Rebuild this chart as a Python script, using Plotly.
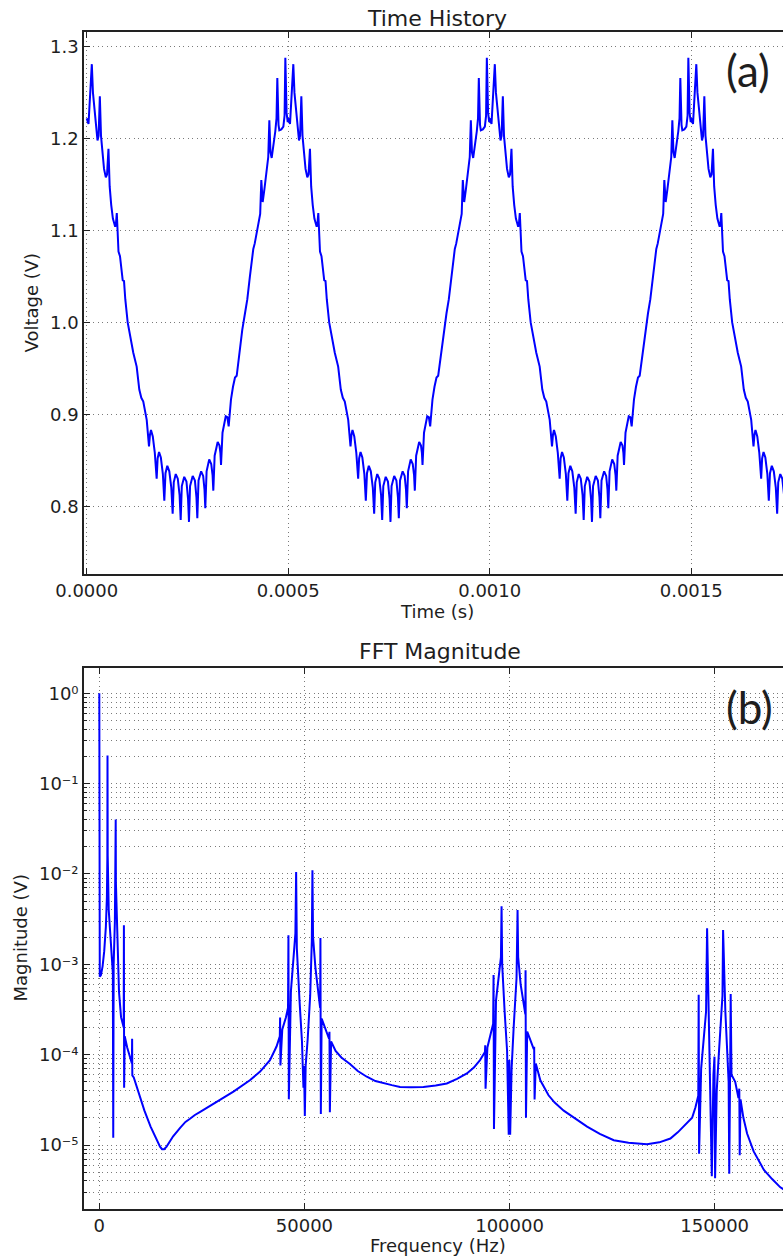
import plotly.graph_objects as go

# ---------------- Time history, microseconds / volts ----------------
time_us_p1 = [0, 4.5, 12.7, 15.5, 19.4, 23.0, 26.8, 29.5, 32.6, 35.5,
              39.2, 43.0, 47.4, 50.5, 54.0, 57.0, 60.8, 65.0, 70.7, 72.7,
              74.7, 78.9, 82.6, 89.3, 92.6, 95.8, 101.7, 108.0, 115.6, 124.0,
              130.5, 135.5, 140.4, 148.9, 154.6, 157.0, 159.5, 164.0, 169.0, 173.6,
              176.0, 179.5, 184.0, 189.0, 192.6, 195.5, 200.0, 205.0, 210.0, 213.3,
              216.0, 221.0, 226.0, 230.5, 233.2, 236.0, 242.0, 247.5, 251.5, 253.8,
              256.5, 263.0, 268.5, 272.3, 274.5, 277.5, 284.0, 289.0, 292.3, 294.3,
              297.5, 304.0, 309.0, 312.3, 314.2, 317.5, 325.0, 329.5, 331.8, 333.3,
              337.0, 345.0, 349.0, 352.3, 355.0, 358.0, 363.0, 368.0, 372.2, 376.0,
              380.4, 386.0, 392.8, 398.5, 405.0, 410.0, 413.4, 417.0, 421.8, 427.0,
              430.5, 433.3, 436.7, 441.0, 446.0, 450.5, 453.2, 456.0, 459.0, 463.0,
              468.0, 471.0, 473.0, 476.0, 478.0, 483.0, 488.0, 491.0, 492.9, 496.0,
              498.8]
volt_p1 = [1.222, 1.216, 1.281, 1.250, 1.232, 1.211, 1.198, 1.203, 1.246, 1.203,
           1.182, 1.167, 1.158, 1.161, 1.189, 1.148, 1.128, 1.113, 1.104, 1.108,
           1.119, 1.077, 1.072, 1.046, 1.045, 1.025, 1.000, 0.984, 0.967, 0.952,
           0.927, 0.918, 0.914, 0.894, 0.865, 0.878, 0.883, 0.876, 0.858, 0.830,
           0.852, 0.859, 0.853, 0.835, 0.806, 0.836, 0.844, 0.838, 0.820, 0.792,
           0.826, 0.835, 0.830, 0.812, 0.785, 0.822, 0.832, 0.827, 0.808, 0.783,
           0.822, 0.833, 0.828, 0.810, 0.787, 0.828, 0.838, 0.833, 0.818, 0.798,
           0.838, 0.851, 0.846, 0.834, 0.817, 0.855, 0.870, 0.866, 0.858, 0.845,
           0.880, 0.898, 0.897, 0.887, 0.905, 0.916, 0.930, 0.940, 0.942, 0.955,
           0.974, 0.992, 1.010, 1.025, 1.050, 1.072, 1.080, 1.086, 1.097, 1.108,
           1.118, 1.155, 1.131, 1.145, 1.162, 1.180, 1.220, 1.185, 1.179, 1.190,
           1.208, 1.222, 1.266, 1.215, 1.209, 1.210, 1.213, 1.225, 1.288, 1.228,
           1.218]

time_us_p2 = [500, 504.5, 512.7, 515.5, 519.4, 523.0, 526.8, 529.5, 532.6, 535.5,
              539.2, 543.0, 547.4, 550.5, 554.0, 557.0, 560.8, 565.0, 570.7, 572.7,
              574.7, 578.9, 582.6, 589.3, 592.6, 595.8, 601.7, 608.0, 615.6, 624.0,
              630.5, 635.5, 640.4, 648.9, 654.6, 657.0, 659.5, 664.0, 669.0, 673.6,
              676.0, 679.5, 684.0, 689.0, 692.6, 695.5, 700.0, 705.0, 710.0, 713.3,
              716.0, 721.0, 726.0, 730.5, 733.2, 736.0, 742.0, 747.5, 751.5, 753.8,
              756.5, 763.0, 768.5, 772.3, 774.5, 777.5, 784.0, 789.0, 792.3, 794.3,
              797.5, 804.0, 809.0, 812.3, 814.2, 817.5, 825.0, 829.5, 831.8, 833.3,
              837.0, 845.0, 849.0, 852.3, 855.0, 858.0, 863.0, 868.0, 872.2, 876.0,
              880.4, 886.0, 892.8, 898.5, 905.0, 910.0, 913.4, 917.0, 921.8, 927.0,
              930.5, 933.3, 936.7, 941.0, 946.0, 950.5, 953.2, 956.0, 959.0, 963.0,
              968.0, 971.0, 973.0, 976.0, 978.0, 983.0, 988.0, 991.0, 992.9, 996.0,
              998.8]
volt_p2 = [1.222, 1.216, 1.281, 1.250, 1.232, 1.211, 1.198, 1.203, 1.246, 1.203,
           1.182, 1.167, 1.158, 1.161, 1.189, 1.148, 1.128, 1.113, 1.104, 1.108,
           1.119, 1.077, 1.072, 1.046, 1.045, 1.025, 1.000, 0.984, 0.967, 0.952,
           0.927, 0.918, 0.914, 0.894, 0.865, 0.878, 0.883, 0.876, 0.858, 0.830,
           0.852, 0.859, 0.853, 0.835, 0.806, 0.836, 0.844, 0.838, 0.820, 0.792,
           0.826, 0.835, 0.830, 0.812, 0.785, 0.822, 0.832, 0.827, 0.808, 0.783,
           0.822, 0.833, 0.828, 0.810, 0.787, 0.828, 0.838, 0.833, 0.818, 0.798,
           0.838, 0.851, 0.846, 0.834, 0.817, 0.855, 0.870, 0.866, 0.858, 0.845,
           0.880, 0.898, 0.897, 0.887, 0.905, 0.916, 0.930, 0.940, 0.942, 0.955,
           0.974, 0.992, 1.010, 1.025, 1.050, 1.072, 1.080, 1.086, 1.097, 1.108,
           1.118, 1.155, 1.131, 1.145, 1.162, 1.180, 1.220, 1.185, 1.179, 1.190,
           1.208, 1.222, 1.266, 1.215, 1.209, 1.210, 1.213, 1.225, 1.288, 1.228,
           1.218]

time_us_p3 = [1000, 1004.5, 1012.7, 1015.5, 1019.4, 1023.0, 1026.8, 1029.5, 1032.6, 1035.5,
              1039.2, 1043.0, 1047.4, 1050.5, 1054.0, 1057.0, 1060.8, 1065.0, 1070.7, 1072.7,
              1074.7, 1078.9, 1082.6, 1089.3, 1092.6, 1095.8, 1101.7, 1108.0, 1115.6, 1124.0,
              1130.5, 1135.5, 1140.4, 1148.9, 1154.6, 1157.0, 1159.5, 1164.0, 1169.0, 1173.6,
              1176.0, 1179.5, 1184.0, 1189.0, 1192.6, 1195.5, 1200.0, 1205.0, 1210.0, 1213.3,
              1216.0, 1221.0, 1226.0, 1230.5, 1233.2, 1236.0, 1242.0, 1247.5, 1251.5, 1253.8,
              1256.5, 1263.0, 1268.5, 1272.3, 1274.5, 1277.5, 1284.0, 1289.0, 1292.3, 1294.3,
              1297.5, 1304.0, 1309.0, 1312.3, 1314.2, 1317.5, 1325.0, 1329.5, 1331.8, 1333.3,
              1337.0, 1345.0, 1349.0, 1352.3, 1355.0, 1358.0, 1363.0, 1368.0, 1372.2, 1376.0,
              1380.4, 1386.0, 1392.8, 1398.5, 1405.0, 1410.0, 1413.4, 1417.0, 1421.8, 1427.0,
              1430.5, 1433.3, 1436.7, 1441.0, 1446.0, 1450.5, 1453.2, 1456.0, 1459.0, 1463.0,
              1468.0, 1471.0, 1473.0, 1476.0, 1478.0, 1483.0, 1488.0, 1491.0, 1492.9, 1496.0,
              1498.8]
volt_p3 = [1.222, 1.216, 1.281, 1.250, 1.232, 1.211, 1.198, 1.203, 1.246, 1.203,
           1.182, 1.167, 1.158, 1.161, 1.189, 1.148, 1.128, 1.113, 1.104, 1.108,
           1.119, 1.077, 1.072, 1.046, 1.045, 1.025, 1.000, 0.984, 0.967, 0.952,
           0.927, 0.918, 0.914, 0.894, 0.865, 0.878, 0.883, 0.876, 0.858, 0.830,
           0.852, 0.859, 0.853, 0.835, 0.806, 0.836, 0.844, 0.838, 0.820, 0.792,
           0.826, 0.835, 0.830, 0.812, 0.785, 0.822, 0.832, 0.827, 0.808, 0.783,
           0.822, 0.833, 0.828, 0.810, 0.787, 0.828, 0.838, 0.833, 0.818, 0.798,
           0.838, 0.851, 0.846, 0.834, 0.817, 0.855, 0.870, 0.866, 0.858, 0.845,
           0.880, 0.898, 0.897, 0.887, 0.905, 0.916, 0.930, 0.940, 0.942, 0.955,
           0.974, 0.992, 1.010, 1.025, 1.050, 1.072, 1.080, 1.086, 1.097, 1.108,
           1.118, 1.155, 1.131, 1.145, 1.162, 1.180, 1.220, 1.185, 1.179, 1.190,
           1.208, 1.222, 1.266, 1.215, 1.209, 1.210, 1.213, 1.225, 1.288, 1.228,
           1.218]

time_us_p4 = [1500, 1504.5, 1512.7, 1515.5, 1519.4, 1523.0, 1526.8, 1529.5, 1532.6, 1535.5,
              1539.2, 1543.0, 1547.4, 1550.5, 1554.0, 1557.0, 1560.8, 1565.0, 1570.7, 1572.7,
              1574.7, 1578.9, 1582.6, 1589.3, 1592.6, 1595.8, 1601.7, 1608.0, 1615.6, 1624.0,
              1630.5, 1635.5, 1640.4, 1648.9, 1654.6, 1657.0, 1659.5, 1664.0, 1669.0, 1673.6,
              1676.0, 1679.5, 1684.0, 1689.0, 1692.6, 1695.5, 1700.0, 1705.0, 1710.0, 1713.3,
              1716.0, 1721.0, 1726.0, 1730.5, 1733.2, 1736.0, 1742.0, 1747.5, 1751.5, 1753.8]
volt_p4 = [1.222, 1.216, 1.281, 1.250, 1.232, 1.211, 1.198, 1.203, 1.246, 1.203,
           1.182, 1.167, 1.158, 1.161, 1.189, 1.148, 1.128, 1.113, 1.104, 1.108,
           1.119, 1.077, 1.072, 1.046, 1.045, 1.025, 1.000, 0.984, 0.967, 0.952,
           0.927, 0.918, 0.914, 0.894, 0.865, 0.878, 0.883, 0.876, 0.858, 0.830,
           0.852, 0.859, 0.853, 0.835, 0.806, 0.836, 0.844, 0.838, 0.820, 0.792,
           0.826, 0.835, 0.830, 0.812, 0.785, 0.822, 0.832, 0.827, 0.808, 0.783]

# ---------------- FFT magnitude ----------------
freq_hz = [0, 120, 400, 800, 1200, 1600, 1850, 1960, 2000, 2050,
           2300, 2800, 3300, 3400, 3500, 3800, 3950, 4000, 4050, 4400,
           4800, 5300, 5800, 5950, 6000, 6050, 6200, 6800, 7500, 7950,
           8000, 8050, 8400, 9700, 11000, 12500, 14100, 14800, 15300, 15800,
           16400, 17200, 18000, 19700, 21000, 22100, 23300, 24600, 28600, 32700,
           36700, 39200, 41600, 43200, 44000,
           44070, 44150, 44600, 45500, 46000, 46100, 46200, 46700, 47300, 47800,
           47980, 48150, 48800, 49400, 49760, 49900, 50100, 50300, 50800, 51400,
           51800, 51950, 52100, 52700, 53400, 53830, 53900, 54000, 54200, 55200,
           56000, 56100, 56200, 56500, 57600, 59000, 61100, 63000, 65200, 67300,
           69300, 71300, 73300, 76000, 79000, 82000, 84700, 87200, 89600, 91300,
           92800, 93600, 94000, 94070, 94150, 94600, 95500, 96000, 96100, 96200,
           96700, 97400, 97900, 98050, 98200, 98800, 99400, 99800, 99950, 100150,
           100500, 101000, 101700, 101950, 102100, 102700, 103500, 103850, 103900, 104000,
           104300, 105500, 105900, 106000, 106100, 106400, 107500, 109500, 111000, 113200,
           116000, 118900, 122000, 125400, 129000, 133500, 136500, 139200, 141000, 142400,
           143500, 144500, 145300, 146000, 146100, 146200, 146700, 147400, 147900, 148150,
           148600, 149300, 149700, 149950, 150100, 150500, 151000, 151600, 151900, 152050,
           152600, 153400, 153550, 153800, 153900, 154100, 155000, 155800, 156000, 156100,
           156300, 157000, 157900, 159500, 162000, 164000, 166000, 170000]
magnitude_v = [1.0, 7.3e-4, 7.6e-4, 9.5e-4, 1.4e-3, 2.6e-3, 5.5e-3, 1.5e-2, 0.205, 1.6e-2,
               4.0e-3, 1.5e-3, 8.0e-4, 1.2e-5, 1.0e-3, 3.0e-3, 1.0e-2, 0.040, 8.0e-3, 1.5e-3,
               5.0e-4, 2.6e-4, 2.0e-4, 2.0e-4, 2.7e-3, 4.3e-5, 1.6e-4, 1.2e-4, 9.5e-5, 8.0e-5,
               1.5e-4, 5.9e-5, 5.6e-5, 3.7e-5, 2.4e-5, 1.6e-5, 1.12e-5, 9.6e-6, 9.0e-6, 9.0e-6,
               9.6e-6, 1.1e-5, 1.25e-5, 1.55e-5, 1.8e-5, 1.95e-5, 2.15e-5, 2.33e-5, 3.0e-5, 3.9e-5,
               5.2e-5, 6.5e-5, 8.7e-5, 1.23e-4, 1.6e-4,
               2.58e-4, 7.6e-5, 1.9e-4, 2.6e-4, 3.3e-4, 2.1e-3, 3.2e-5, 5.0e-4, 1.0e-3, 2.2e-3,
               1.05e-2, 1.5e-3, 4.0e-4, 1.4e-4, 4.3e-5, 7.5e-5, 2.1e-5, 7.5e-5, 1.5e-4, 4.5e-4,
               1.8e-3, 1.1e-2, 2.0e-3, 9.0e-4, 4.8e-4, 3.3e-4, 1.95e-3, 2.2e-5, 2.5e-4, 1.9e-4,
               1.5e-4, 1.79e-4, 2.3e-5, 1.4e-4, 1.1e-4, 9.3e-5, 7.9e-5, 6.6e-5, 5.7e-5, 5.1e-5,
               4.8e-5, 4.6e-5, 4.4e-5, 4.35e-5, 4.4e-5, 4.55e-5, 4.8e-5, 5.4e-5, 6.2e-5, 7.2e-5,
               8.7e-5, 1.0e-4, 1.07e-4, 1.27e-4, 4.2e-5, 1.2e-4, 1.8e-4, 2.2e-4, 7.6e-4, 1.5e-5,
               4.0e-4, 8.0e-4, 1.2e-3, 4.4e-3, 1.0e-3, 3.0e-4, 1.1e-4, 1.3e-5, 8.7e-5, 1.3e-5,
               7.0e-5, 2.0e-4, 7.0e-4, 4.0e-3, 1.2e-3, 6.0e-4, 3.5e-4, 2.8e-4, 8.6e-4, 2.0e-5,
               1.8e-4, 1.3e-4, 1.15e-4, 1.22e-4, 3.2e-5, 8.0e-5, 5.2e-5, 3.55e-5, 2.95e-5, 2.4e-5,
               1.95e-5, 1.6e-5, 1.33e-5, 1.13e-5, 1.06e-5, 1.02e-5, 1.07e-5, 1.18e-5, 1.38e-5, 1.6e-5,
               1.8e-5, 2.0e-5, 2.6e-5, 3.5e-5, 4.6e-4, 8.0e-6, 7.0e-5, 1.5e-4, 3.0e-4, 2.5e-3,
               2.0e-4, 4.5e-6, 6.0e-5, 9.5e-5, 4.3e-6, 4.0e-5, 1.0e-4, 2.5e-4, 4.5e-4, 2.4e-3,
               3.0e-4, 5.0e-5, 4.8e-6, 1.0e-4, 4.7e-4, 6.0e-5, 5.0e-5, 3.3e-5, 4.2e-5, 7.7e-6,
               3.2e-5, 2.0e-5, 1.34e-5, 8.5e-6, 5.3e-6, 4.2e-6, 3.4e-6, 2.6e-6]

# ---------------- Tick labels ----------------
time_tick_vals = [0.0, 0.0005, 0.0010, 0.0015]
time_tick_text = ["0.0000", "0.0005", "0.0010", "0.0015"]
volt_tick_vals = [0.8, 0.9, 1.0, 1.1, 1.2, 1.3]
volt_tick_text = ["0.8", "0.9", "1.0", "1.1", "1.2", "1.3"]
freq_tick_vals = [0, 50000, 100000, 150000]
freq_tick_text = ["0", "50000", "100000", "150000"]
mag_tick_vals = [1, 0.1, 0.01, 0.001, 0.0001, 0.00001]
mag_tick_text = ["10\u2070", "10\u207b\u00b9", "10\u207b\u00b2",
                 "10\u207b\u00b3", "10\u207b\u2074", "10\u207b\u2075"]

W, H = 783, 1259
FONT = "DejaVu Sans"
TXT = "#1e1e1e"
GRID = dict(showgrid=True, gridcolor="#7a7a7a", gridwidth=1, griddash="1px,3.5px")


def px(xp):
    return xp / W


def py(yp):
    return 1 - yp / H


time_us = time_us_p1 + time_us_p2 + time_us_p3 + time_us_p4
volt = volt_p1 + volt_p2 + volt_p3 + volt_p4
time_s = [t * 1e-6 for t in time_us]

fig = go.Figure()
fig.add_trace(go.Scatter(x=time_s, y=volt, mode="lines",
                         line=dict(color="#0000ff", width=2),
                         xaxis="x", yaxis="y", showlegend=False))
fig.add_trace(go.Scatter(x=freq_hz, y=magnitude_v, mode="lines",
                         line=dict(color="#0000ff", width=2),
                         xaxis="x2", yaxis="y2", showlegend=False))

axis_base = dict(showline=True, linecolor="#222222", linewidth=1.6,
                 ticks="inside", ticklen=6, tickwidth=1, tickcolor="#222222",
                 tickfont=dict(family=FONT, size=18, color=TXT),
                 zeroline=False, automargin=False, **GRID)

fig.update_layout(
    width=W, height=H, autosize=False,
    margin=dict(l=0, r=0, t=0, b=0),
    paper_bgcolor="white", plot_bgcolor="white",
    xaxis=dict(domain=[px(84), 1], range=[-6.7e-6, 1.7278e-3], anchor="y",
               tickmode="array", tickvals=time_tick_vals, ticktext=time_tick_text,
               mirror="ticks", **axis_base),
    yaxis=dict(domain=[py(574), py(32)], range=[0.7263, 1.316], anchor="x",
               tickmode="array", tickvals=volt_tick_vals, ticktext=volt_tick_text,
               **axis_base),
    xaxis2=dict(domain=[px(84), 1], range=[-3729, 166652], anchor="y2",
                tickmode="array", tickvals=freq_tick_vals, ticktext=freq_tick_text,
                mirror="ticks", **axis_base),
    yaxis2=dict(domain=[py(1208.7), py(667.7)], type="log", range=[-5.705, 0.2834],
                anchor="x2", tickmode="array", tickvals=mag_tick_vals, ticktext=mag_tick_text,
                minor=dict(dtick="D1", ticks="inside", ticklen=3, tickcolor="#222222",
                           showgrid=True, gridcolor="#7a7a7a", gridwidth=1,
                           griddash="1px,3.5px"),
                **axis_base),
)

ann = [
    dict(text="Time History", x=px(437), y=py(19), size=22, angle=0, fam=FONT),
    dict(text="FFT Magnitude", x=px(440), y=py(651), size=22, angle=0, fam=FONT),
    dict(text="Time (s)", x=px(437), y=py(611), size=18, angle=0, fam=FONT),
    dict(text="Frequency (Hz)", x=px(438), y=py(1245), size=18, angle=0, fam=FONT),
    dict(text="Voltage (V)", x=px(30.5), y=py(303), size=18, angle=-90, fam=FONT),
    dict(text="Magnitude (V)", x=px(19.5), y=py(938), size=18, angle=-90, fam=FONT),
    dict(text="(a)", x=px(748), y=py(70), size=44, angle=0, fam="Lato"),
    dict(text="(b)", x=px(749), y=py(707), size=44, angle=0, fam="Lato"),
]
for a in ann:
    fig.add_annotation(text=a["text"], x=a["x"], y=a["y"], xref="paper", yref="paper",
                       xanchor="center", yanchor="middle", showarrow=False,
                       textangle=a["angle"],
                       font=dict(family=a["fam"], size=a["size"], color=TXT))

fig.write_html("out.html")
